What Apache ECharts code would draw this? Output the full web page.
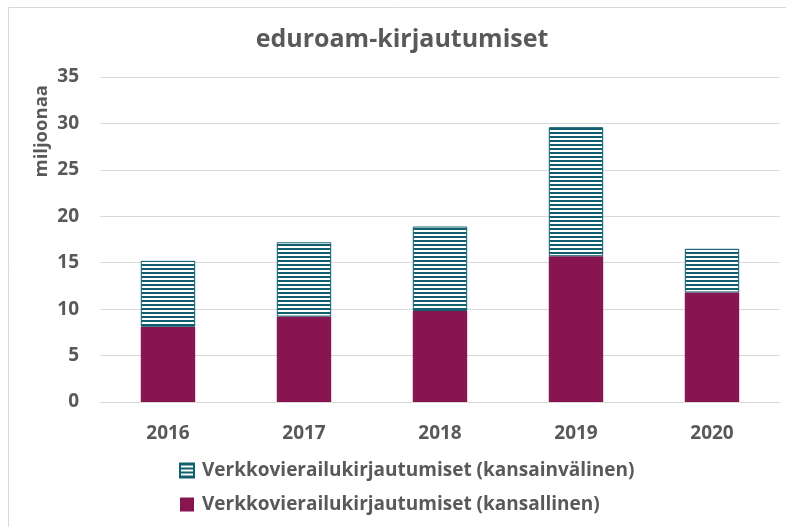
<!DOCTYPE html>
<html>
<head>
<meta charset="utf-8">
<script src="https://cdn.jsdelivr.net/npm/echarts@6/dist/echarts.min.js"></script>
<style>
  html, body { margin: 0; padding: 0; background: #fff; }
  #main { width: 786px; height: 527px; }
</style>
</head>
<body>
<div id="main"></div>
<script>
// data
var years = ['2016', '2017', '2018', '2019', '2020'];
var kansallinen = [8.1, 9.2, 9.8, 15.7, 11.8];
var kansainvalinen = [7.1, 8.0, 9.1, 13.9, 4.7];
var yTicks = [0, 5, 10, 15, 20, 25, 30, 35];

var TEAL = '#12606f';
var PURPLE = '#87154f';
var TEXT = '#595959';
var FONT = '"Open Sans", "Noto Sans", sans-serif';

// raitakuvio
function stripes() {
    var c = document.createElement('canvas');
    c.width = 4;
    c.height = 4;
    var ctx = c.getContext('2d');
    ctx.fillStyle = '#ffffff';
    ctx.fillRect(0, 0, 4, 4);
    ctx.fillStyle = TEAL;
    ctx.fillRect(0, 0, 4, 2);
    return c;
}

var myChart = echarts.init(document.getElementById('main'));

var option = {
    backgroundColor: '#fff',
    animation: false,
    textStyle: { fontFamily: FONT },
    title: {
        text: 'eduroam-kirjautumiset',
        left: 397,
        textAlign: 'center',
        top: 22,
        textStyle: { fontFamily: FONT, fontSize: 25, fontWeight: 'bold', color: TEXT }
    },
    graphic: [{
        type: 'rect',
        shape: { x: 8.5, y: 7.5, width: 900, height: 700 },
        style: { fill: 'none', stroke: '#d9d9d9', lineWidth: 1 },
        silent: true
    }],
    legend: {
        orient: 'vertical',
        left: 179,
        top: 461,
        padding: 0,
        itemWidth: 14,
        itemHeight: 14,
        itemGap: 15,
        icon: 'rect',
        data: ['Verkkovierailukirjautumiset (kansainvälinen)', 'Verkkovierailukirjautumiset (kansallinen)'],
        textStyle: { fontFamily: FONT, fontSize: 19, fontWeight: 'bold', color: TEXT, padding: [0, 0, 0, 3] }
    },
    grid: {
        left: 100,
        right: 6,
        top: 77,
        bottom: 125,
        containLabel: false
    },
    xAxis: {
        type: 'category',
        data: years,
        axisLine: { lineStyle: { color: '#d9d9d9' } },
        axisTick: { show: false },
        axisLabel: { fontFamily: FONT, fontSize: 19, fontWeight: 'bold', color: TEXT, margin: 22 }
    },
    yAxis: {
        type: 'value',
        min: yTicks[0],
        max: yTicks[yTicks.length - 1],
        interval: 5,
        name: 'miljoonaa',
        nameLocation: 'end',
        nameRotate: 90,
        nameGap: 0,
        nameTextStyle: { fontFamily: FONT, fontSize: 18.5, fontWeight: 'bold', color: TEXT, align: 'right', verticalAlign: 'bottom', padding: [0, 8, 49, 0] },
        axisLine: { show: false },
        axisTick: { show: false },
        splitLine: { lineStyle: { color: '#d9d9d9' } },
        axisLabel: { fontFamily: FONT, fontSize: 19, fontWeight: 'bold', color: TEXT, margin: 21 }
    },
    series: [
        {
            name: 'Verkkovierailukirjautumiset (kansallinen)',
            type: 'bar',
            stack: 'yht',
            barWidth: '40%',
            data: kansallinen,
            itemStyle: { color: PURPLE }
        },
        {
            name: 'Verkkovierailukirjautumiset (kansainvälinen)',
            type: 'bar',
            stack: 'yht',
            data: kansainvalinen,
            itemStyle: {
                color: { image: stripes(), repeat: 'repeat' },
                borderColor: TEAL,
                borderWidth: 1
            }
        }
    ]
};

myChart.setOption(option);
</script>
</body>
</html>
